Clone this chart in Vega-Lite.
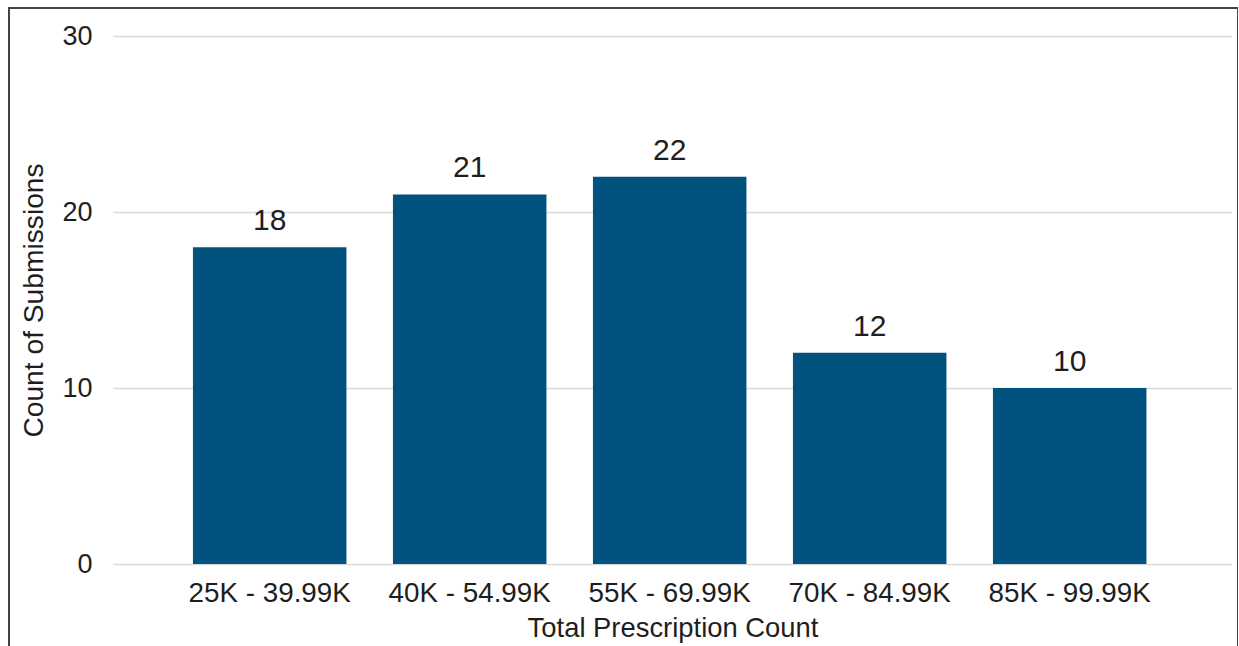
{
  "$schema": "https://vega.github.io/schema/vega-lite/v6.json",
  "width": 1229,
  "height": 660,
  "autosize": {"type": "none"},
  "padding": {"left": 9, "top": 8, "right": 0, "bottom": 0},
  "background": "white",
  "config": {
    "view": {"stroke": "#444444", "strokeWidth": 2},
    "font": "Liberation Sans"
  },
  "data": {
    "values": [
      {"range": "25K - 39.99K", "count": 18},
      {"range": "40K - 54.99K", "count": 21},
      {"range": "55K - 69.99K", "count": 22},
      {"range": "70K - 84.99K", "count": 12},
      {"range": "85K - 99.99K", "count": 10}
    ]
  },
  "encoding": {
    "x": {
      "field": "range",
      "type": "nominal",
      "sort": null,
      "scale": {"range": [104, 1223], "paddingInner": 0.2325, "paddingOuter": 0.41375, "align": 0.483},
      "axis": {
        "title": "Total Prescription Count",
        "orient": "bottom",
        "offset": -104,
        "labelAngle": 0,
        "ticks": false,
        "tickSize": 0,
        "domain": false,
        "grid": false,
        "labelPadding": 15,
        "labelFontSize": 27.8,
        "labelColor": "#1e1e1e",
        "labelFont": "Liberation Sans",
        "titleFont": "Liberation Sans",
        "titleFontSize": 27.4,
        "titleFontWeight": "normal",
        "titleColor": "#1e1e1e",
        "titleBaseline": "alphabetic",
        "titleY": 72
      }
    },
    "y": {
      "field": "count",
      "type": "quantitative",
      "scale": {"domain": [0, 30], "range": [556, 28], "nice": false, "zero": true},
      "axis": {
        "title": "Count of Submissions",
        "values": [0, 10, 20, 30],
        "offset": -83,
        "ticks": false,
        "tickSize": 0,
        "domain": false,
        "labelPadding": 0,
        "labelFontSize": 27,
        "labelColor": "#1e1e1e",
        "labelFont": "Liberation Sans",
        "grid": true,
        "gridColor": "#d9d9d9",
        "gridWidth": 1.6,
        "titleFont": "Liberation Sans",
        "titleFontSize": 28.2,
        "titleFontWeight": "normal",
        "titleColor": "#1e1e1e",
        "titleBaseline": "alphabetic",
        "titleX": -50
      }
    }
  },
  "layer": [
    {"mark": {"type": "bar", "color": "#02527f"}},
    {
      "mark": {"type": "text", "dy": -17, "baseline": "alphabetic", "fontSize": 30, "color": "#1e1e1e", "font": "Liberation Sans"},
      "encoding": {"text": {"field": "count", "type": "quantitative"}}
    }
  ]
}
